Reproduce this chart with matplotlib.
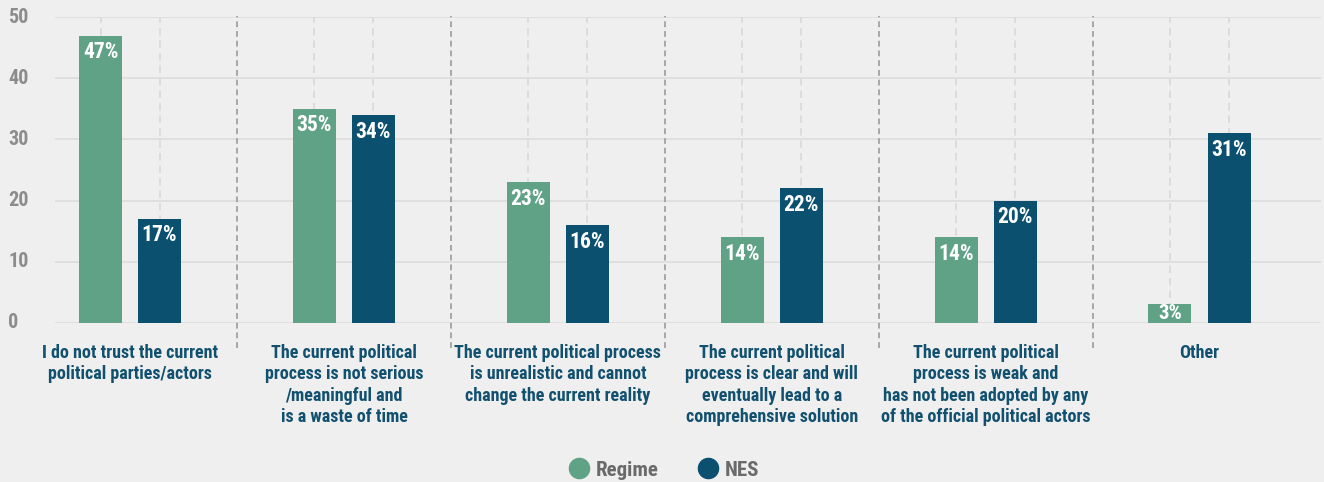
import matplotlib
matplotlib.use("Agg")
import matplotlib.pyplot as plt
import matplotlib.transforms as mtransforms
from matplotlib.lines import Line2D
import numpy as np

categories = [
    "I do not trust the current\npolitical parties/actors",
    "The current political\nprocess is not serious\n/meaningful and\nis a waste of time",
    "The current political process\nis unrealistic and cannot\nchange the current reality",
    "The current political\nprocess is clear and will\neventually lead to a\ncomprehensive solution",
    "The current political\nprocess is weak and\nhas not been adopted by any\nof the official political actors",
    "Other",
]
regime = [47, 35, 23, 14, 14, 3]
nes = [17, 34, 16, 22, 20, 31]
y_ticks = [0, 10, 20, 30, 40, 50]

REGIME_COLOR = "#5fa286"
NES_COLOR = "#0b506f"
LABEL_COLOR = "#11506e"
BG = "#efefef"

plt.rcParams["font.family"] = ["Roboto Condensed", "Archivo Narrow", "PT Sans Narrow",
                               "Asap Condensed", "DejaVu Sans"]
plt.rcParams["font.weight"] = "bold"

W, H = 1324, 482
fig = plt.figure(figsize=(W / 100, H / 100), dpi=100, facecolor=BG)
ax = fig.add_axes([55 / W, 1 - 322.7 / H, 1266 / W, 305.4 / H], facecolor=BG)

x = np.arange(len(categories))
off, bw = 0.138, 0.201

# light dashed guides at bar centres, sitting behind the bars
for xc in np.concatenate([x - off, x + off]):
    ax.plot([xc, xc], [0, 50], color="#d9d9d9", lw=1.2, ls=(0, (4.5, 3)), zorder=1)
for yv in y_ticks:
    ax.axhline(yv, color="#dcdcdc", lw=1.2, zorder=1)

b1 = ax.bar(x - off, regime, bw, color=REGIME_COLOR, zorder=3)
b2 = ax.bar(x + off, nes, bw, color=NES_COLOR, zorder=3)

for bars, vals in ((b1, regime), (b2, nes)):
    for b, v in zip(bars, vals):
        cx = b.get_x() + b.get_width() / 2
        if v < 5:
            # too short for a label under the top edge: centre it in the bar
            ax.text(cx, v / 2, f"{v}%", ha="center", va="center", color="white",
                    fontsize=15, fontweight="bold", zorder=4)
        else:
            ax.annotate(f"{v}%", (cx, v), xytext=(0, -4), textcoords="offset points",
                        ha="center", va="top", color="white",
                        fontsize=15.5, fontweight="bold", zorder=4)

# group separators
for k in range(len(categories) - 1):
    ax.plot([k + 0.5, k + 0.5], [-4.1, 50.2], color="#a8a8a8", lw=1.4,
            ls=(0, (3, 2)), zorder=2, clip_on=False)

ax.set_xlim(-0.351, 5.568)
ax.set_ylim(0, 50)
ax.set_xticks([])
ax.set_yticks([])
for s in ax.spines.values():
    s.set_visible(False)

# y tick labels, left aligned at the figure edge
ytrans = mtransforms.blended_transform_factory(fig.transFigure, ax.transData)
for yv in y_ticks:
    fig.text(8 / W, yv, str(yv), transform=ytrans, ha="left", va="center",
             color="#8c8c8c", fontsize=14.5, fontweight="bold")

for xc, lab in zip(x, categories):
    ax.text(xc, -3.45, lab, ha="center", va="top", color=LABEL_COLOR,
            fontsize=13, fontweight="bold", linespacing=1.25)

handles = [
    Line2D([], [], marker="o", ls="", ms=14.5, color=REGIME_COLOR, label="Regime"),
    Line2D([], [], marker="o", ls="", ms=14.5, color=NES_COLOR, label="NES"),
]
fig.legend(handles=handles, loc="center", bbox_to_anchor=(664 / W, 1 - 470 / H),
           ncol=2, frameon=False, fontsize=15, labelcolor="#6a6a6a",
           handletextpad=0.3, columnspacing=1.9, handlelength=1.0)

fig.savefig("out.png", dpi=100, facecolor=BG)
